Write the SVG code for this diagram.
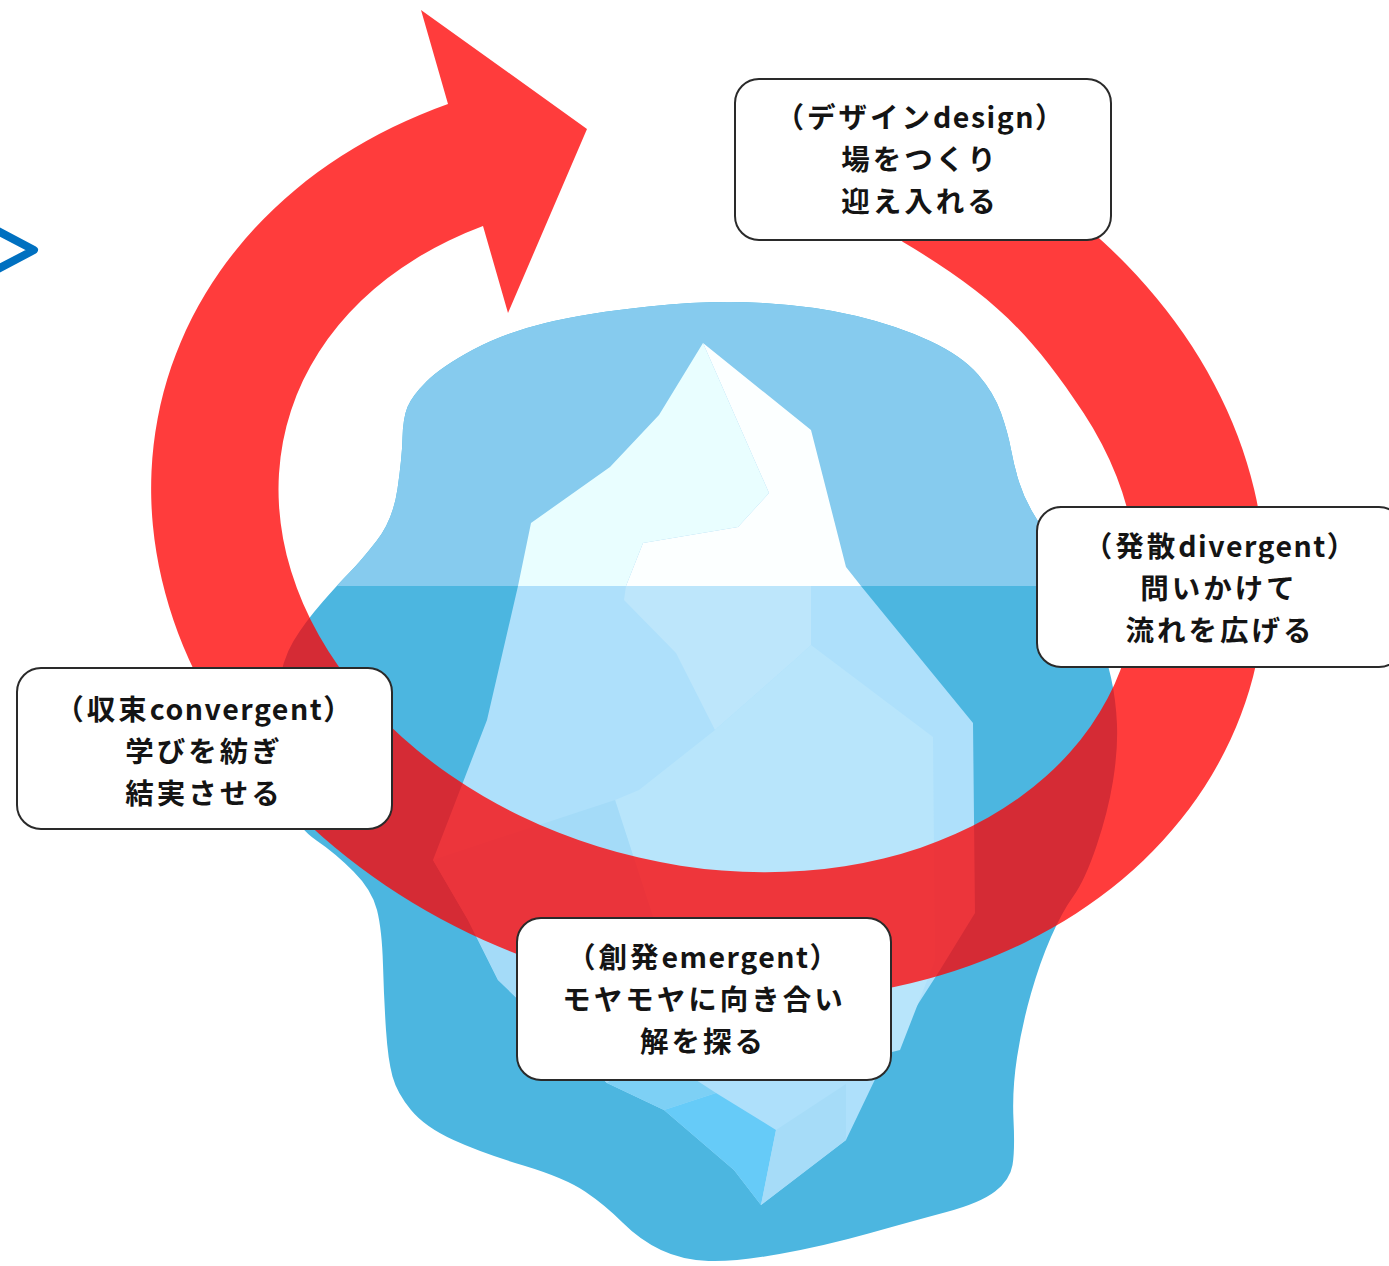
<svg xmlns="http://www.w3.org/2000/svg" width="1389" height="1266" viewBox="0 0 1389 1266">
  <style>
    .box { fill: #ffffff; stroke: #2a2a2a; stroke-width: 2; }
    .lbl { font-family: "Noto Sans CJK JP", "Noto Sans", sans-serif; font-weight: 700; font-size: 28.5px; fill: #141414; text-anchor: middle; letter-spacing: 3px; }
    .lat { letter-spacing: 1.5px; }
    .ring { fill: #ff0000; fill-opacity: 0.765; }
  </style>
  <defs>
    <path id="blob" d="M 763 303 Q 815 306 856.5 316 Q 898 326 930 341 Q 962 356 978 374.5 Q 994 393 1001 413 Q 1008 433 1011 449.5 Q 1014 466 1019 482 Q 1024 498 1033 513 Q 1042 528 1053.5 546.5 Q 1065 565 1076.5 588.5 Q 1088 612 1097 633.5 Q 1106 655 1111 677.5 Q 1116 700 1117 725 Q 1118 750 1113 781 Q 1108 812 1096.5 846 Q 1085 880 1073.5 896 Q 1062 912 1051 937 Q 1040 962 1031 993.5 Q 1022 1025 1017 1057.5 Q 1012 1090 1013.5 1120 Q 1015 1150 1012.5 1165 Q 1010 1180 995 1191.5 Q 980 1203 946.5 1212 Q 913 1221 868.5 1233.5 Q 824 1246 779.5 1254 Q 735 1262 708.5 1261 Q 682 1260 661 1250 Q 640 1240 622.5 1222.5 Q 605 1205 585 1191.5 Q 565 1178 523.5 1165.5 Q 482 1153 453.5 1140 Q 425 1127 411 1110 Q 397 1093 392.5 1076.5 Q 388 1060 386 1030 Q 384 1000 383 965 Q 382 930 377 910 Q 372 890 353.5 871.5 Q 335 853 316.5 840.5 Q 298 828 288 804 Q 278 780 276 750 Q 274 720 278 690 Q 282 660 293.5 641 Q 305 622 322.5 602 Q 340 582 350 572 Q 360 562 376.5 541 Q 393 520 397.5 489 Q 402 458 402.5 438 Q 403 418 407.5 407 Q 412 396 426.5 381.5 Q 441 367 472.5 350 Q 504 333 545.5 323 Q 587 313 649 306.5 Q 711 300 763 303 Z"/>
    <clipPath id="above"><rect x="0" y="0" width="1389" height="586"/></clipPath>
  </defs>

  <g id="water">
    <use href="#blob" fill="#4cb6e0"/>
    <use href="#blob" fill="#86cbee" clip-path="url(#above)"/>
  </g>

  <g id="iceberg">
    <polygon fill="#aee0fb" points="518,586 487,720 460,790 433,860 468,920 498,980 560,1040 607,1083 664,1110 734,1170 761,1205 846,1140 891,1046 940,970 975,913 973,723 861,586"/>
    <polygon fill="#bde6fb" points="626,586 811,586 811,645 798,657 715,730 676,653 624,600"/>
    <polygon fill="#b8e5fb" points="715,730 798,657 811,645 933,737 935,960 900,1050 780,1080 680,1000 615,800 639,790"/>
    <polygon fill="#a4dbf8" points="433,860 615,800 680,1000 640,1060 607,1083 560,1040 498,980 468,920"/>
    <polygon fill="#7dd0f5" points="607,1083 650,1050 716,1093 664,1110"/>
    <polygon fill="#66cbf8" points="664,1110 716,1093 776,1130 761,1205 734,1170"/>
    <polygon fill="#a6dcf8" points="776,1130 846,1084 846,1140 761,1205"/>
    <polygon fill="#e9feff" points="703,343 659,415 610,467 531,523 518,586 626,586 643,543 738,527 769,493"/>
    <polygon fill="#fcffff" points="703,343 769,493 738,527 643,543 626,586 861,586 846,567 811,430"/>
  </g>

  <g id="connectors">
    <path id="cycle-arrow" class="ring" d="M 822.7 91.7 A 563 458 14.5 1 1 448 104 L 421 10 L 587 129 L 508 313 L 483 226 A 435 330 14.5 1 0 1083.6 413.1 C 1028.6 329.6 988.9 293.2 903 242 L 860 205 Z"/>
    <polyline id="chevron" points="-4,230 34,250 -4,270" fill="none" stroke="#0070c0" stroke-width="8" stroke-linejoin="round" stroke-linecap="round"/>
  </g>

  <g id="node-design">
    <rect class="box" x="735" y="79" width="376" height="161" rx="24"/>
    <text class="lbl"><tspan x="921" y="128">（デザイン<tspan class="lat">design</tspan>）</tspan><tspan x="920" y="170">場をつくり</tspan><tspan x="920" y="212">迎え入れる</tspan></text>
  </g>

  <g id="node-divergent">
    <rect class="box" x="1037" y="507" width="366" height="160" rx="24"/>
    <text class="lbl"><tspan x="1221" y="557">（発散<tspan class="lat">divergent</tspan>）</tspan><tspan x="1219" y="599">問いかけて</tspan><tspan x="1220" y="641">流れを広げる</tspan></text>
  </g>

  <g id="node-convergent">
    <rect class="box" x="17" y="668" width="375" height="161" rx="24"/>
    <text class="lbl"><tspan x="205" y="720">（収束<tspan class="lat">convergent</tspan>）</tspan><tspan x="204" y="762">学びを紡ぎ</tspan><tspan x="204" y="804">結実させる</tspan></text>
  </g>

  <g id="node-emergent">
    <rect class="box" x="517" y="918" width="374" height="162" rx="24"/>
    <text class="lbl"><tspan x="704" y="968">（創発<tspan class="lat">emergent</tspan>）</tspan><tspan x="704" y="1010">モヤモヤに向き合い</tspan><tspan x="703" y="1052">解を探る</tspan></text>
  </g>
</svg>
